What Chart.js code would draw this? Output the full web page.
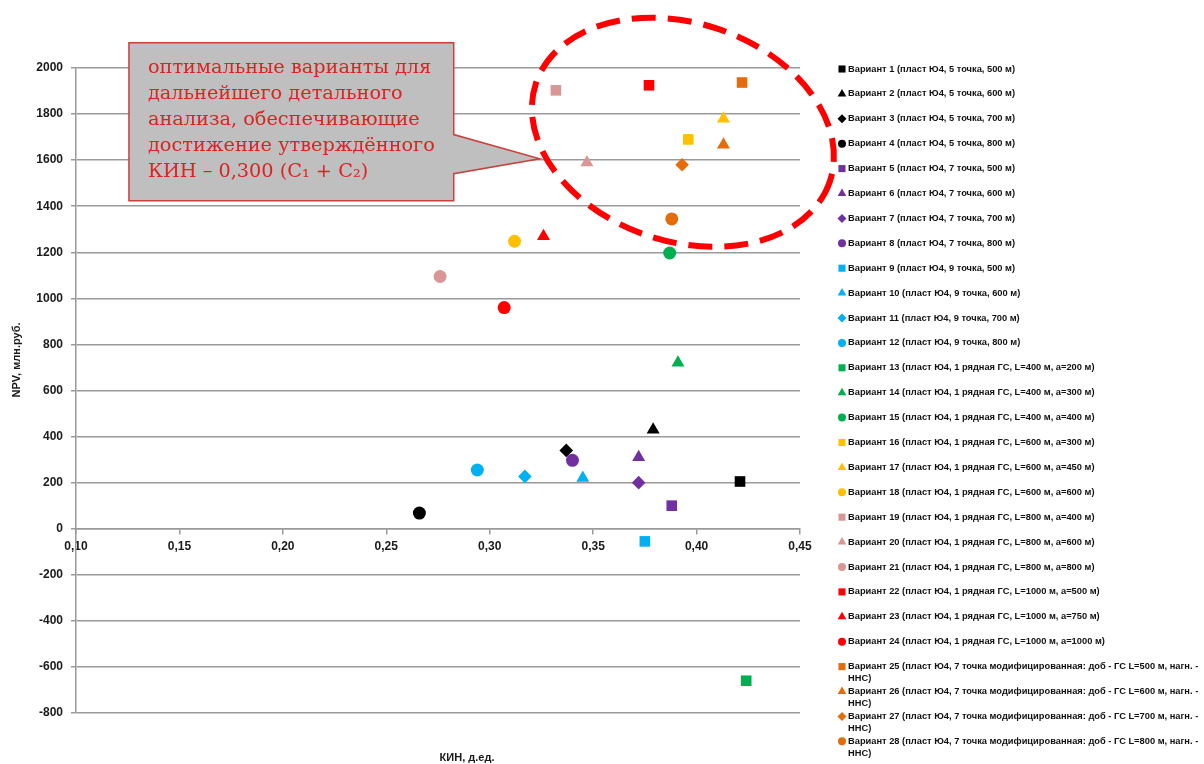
<!DOCTYPE html>
<html lang="ru">
<head>
<meta charset="utf-8">
<title>NPV / КИН</title>
<script src="https://cdn.jsdelivr.net/npm/chart.js"></script>
<style>
    html, body { margin: 0; padding: 0; background: #fff; }
</style>
</head>
<body>
<canvas id="npvChart" width="1204" height="764"></canvas>
<script>
const variants = [
    "Вариант 1 (пласт Ю4, 5 точка, 500 м)",
    "Вариант 2 (пласт Ю4, 5 точка, 600 м)",
    "Вариант 3 (пласт Ю4, 5 точка, 700 м)",
    "Вариант 4 (пласт Ю4, 5 точка, 800 м)",
    "Вариант 5 (пласт Ю4, 7 точка, 500 м)",
    "Вариант 6 (пласт Ю4, 7 точка, 600 м)",
    "Вариант 7 (пласт Ю4, 7 точка, 700 м)",
    "Вариант 8 (пласт Ю4, 7 точка, 800 м)",
    "Вариант 9 (пласт Ю4, 9 точка, 500 м)",
    "Вариант 10 (пласт Ю4, 9 точка, 600 м)",
    "Вариант 11 (пласт Ю4, 9 точка, 700 м)",
    "Вариант 12 (пласт Ю4, 9 точка, 800 м)",
    "Вариант 13 (пласт Ю4, 1 рядная ГС, L=400 м, a=200 м)",
    "Вариант 14 (пласт Ю4, 1 рядная ГС, L=400 м, a=300 м)",
    "Вариант 15 (пласт Ю4, 1 рядная ГС, L=400 м, a=400 м)",
    "Вариант 16 (пласт Ю4, 1 рядная ГС, L=600 м, a=300 м)",
    "Вариант 17 (пласт Ю4, 1 рядная ГС, L=600 м, a=450 м)",
    "Вариант 18 (пласт Ю4, 1 рядная ГС, L=600 м, a=600 м)",
    "Вариант 19 (пласт Ю4, 1 рядная ГС, L=800 м, a=400 м)",
    "Вариант 20 (пласт Ю4, 1 рядная ГС, L=800 м, a=600 м)",
    "Вариант 21 (пласт Ю4, 1 рядная ГС, L=800 м, a=800 м)",
    "Вариант 22 (пласт Ю4, 1 рядная ГС, L=1000 м, a=500 м)",
    "Вариант 23 (пласт Ю4, 1 рядная ГС, L=1000 м, a=750 м)",
    "Вариант 24 (пласт Ю4, 1 рядная ГС, L=1000 м, a=1000 м)",
    "Вариант 25 (пласт Ю4, 7 точка модифицированная: доб - ГС L=500 м, нагн. - ННС)",
    "Вариант 26 (пласт Ю4, 7 точка модифицированная: доб - ГС L=600 м, нагн. - ННС)",
    "Вариант 27 (пласт Ю4, 7 точка модифицированная: доб - ГС L=700 м, нагн. - ННС)",
    "Вариант 28 (пласт Ю4, 7 точка модифицированная: доб - ГС L=800 м, нагн. - ННС)"
];

// КИН, д.ед.
const kin = [
    0.421, 0.379, 0.337, 0.266,
    0.388, 0.372, 0.372, 0.340,
    0.375, 0.345, 0.317, 0.294,
    0.424, 0.391, 0.387,
    0.396, 0.413, 0.312,
    0.332, 0.347, 0.276,
    0.377, 0.326, 0.307,
    0.422, 0.413, 0.393, 0.388
];

// NPV, млн.руб.
const npv = [
    205, 430, 340, 68,
    100, 310, 200, 297,
    -55, 220, 227, 255,
    -660, 720, 1197,
    1690, 1780, 1248,
    1903, 1590, 1095,
    1925, 1270, 960,
    1937, 1667, 1580, 1345
];

const markerColors = [
    "#000000", "#000000", "#000000", "#000000",
    "#7030A0", "#7030A0", "#7030A0", "#7030A0",
    "#00B0F0", "#00B0F0", "#00B0F0", "#00B0F0",
    "#00B050", "#00B050", "#00B050",
    "#FFC000", "#FFC000", "#FFC000",
    "#D99694", "#D99694", "#D99694",
    "#FF0000", "#FF0000", "#FF0000",
    "#E46C0A", "#E46C0A", "#E46C0A", "#E46C0A"
];

const markerShapes = [
    "rect", "triangle", "rectRot", "circle",
    "rect", "triangle", "rectRot", "circle",
    "rect", "triangle", "rectRot", "circle",
    "rect", "triangle", "circle",
    "rect", "triangle", "circle",
    "rect", "triangle", "circle",
    "rect", "triangle", "circle",
    "rect", "triangle", "rectRot", "circle"
];

const kinTicks = [0.10, 0.15, 0.20, 0.25, 0.30, 0.35, 0.40, 0.45];
const npvTicks = [-800, -600, -400, -200, 0, 200, 400, 600, 800, 1000, 1200, 1400, 1600, 1800, 2000];

const calloutLines = [
    "оптимальные варианты для",
    "дальнейшего детального",
    "анализа, обеспечивающие",
    "достижение утверждённого",
    "КИН – 0,300 (C₁ + C₂)"
];

// callout box and dashed ring, anchored in axis units
const callout = { left: 0.1256, right: 0.2826, top: 2110, bottom: 1424,
                  notchTop: 1711, notchBottom: 1541, tipX: 0.3242, tipY: 1606 };
const ring = { cx: 0.3934, cy: 1721, rx: 0.0749, ry: 474, tilt: 0.32 };

const markerSize = { rect: 7.5, triangle: 7.5, rectRot: 6.8, circle: 6.5 };
const legendSize = { rect: 5, triangle: 5, rectRot: 4.5, circle: 4 };

const GRID = "#9a9a9a";
const AXIS_FONT = { family: "'Liberation Sans', Arial, sans-serif", size: 12, weight: "bold" };

function wrapText(ctx, text, maxWidth) {
    const words = text.split(" ");
    const lines = [];
    let line = "";
    words.forEach(w => {
        const test = line ? line + " " + w : w;
        if (ctx.measureText(test).width > maxWidth && line) {
            lines.push(line);
            line = w;
        } else {
            line = test;
        }
    });
    lines.push(line);
    return lines;
}

const annotations = {
    id: "annotations",
    beforeDatasetsDraw(chart) {
        const { ctx, scales: { x, y } } = chart;
        ctx.save();

        // speech-bubble box
        const L = x.getPixelForValue(callout.left);
        const R = x.getPixelForValue(callout.right);
        const T = y.getPixelForValue(callout.top);
        const B = y.getPixelForValue(callout.bottom);
        ctx.beginPath();
        ctx.moveTo(L, T);
        ctx.lineTo(R, T);
        ctx.lineTo(R, y.getPixelForValue(callout.notchTop));
        ctx.lineTo(x.getPixelForValue(callout.tipX), y.getPixelForValue(callout.tipY));
        ctx.lineTo(R, y.getPixelForValue(callout.notchBottom));
        ctx.lineTo(R, B);
        ctx.lineTo(L, B);
        ctx.closePath();
        ctx.fillStyle = "#BFBFBF";
        ctx.fill();
        ctx.lineWidth = 1.5;
        ctx.strokeStyle = "#C9403D";
        ctx.stroke();

        ctx.fillStyle = "#DD2222";
        ctx.font = "19.3px 'DejaVu Serif', 'Liberation Serif', serif";
        ctx.textBaseline = "middle";
        ctx.textAlign = "left";
        calloutLines.forEach((t, i) => ctx.fillText(t, L + 19, T + 25 + i * 26));

        // dashed ring around the best variants
        const cx = x.getPixelForValue(ring.cx);
        const cy = y.getPixelForValue(ring.cy);
        const rx = x.getPixelForValue(ring.cx + ring.rx) - cx;
        const ry = cy - y.getPixelForValue(ring.cy + ring.ry);
        ctx.beginPath();
        ctx.ellipse(cx, cy, rx, ry, ring.tilt, 0, Math.PI * 2);
        ctx.setLineDash([24, 12]);
        ctx.lineWidth = 6;
        ctx.strokeStyle = "#FF0000";
        ctx.stroke();
        ctx.restore();
    },
    afterDraw(chart) {
        const ctx = chart.ctx;
        ctx.save();
        ctx.fillStyle = "#1a1a1a";
        ctx.font = "bold 11px 'Liberation Sans', Arial, sans-serif";
        ctx.textAlign = "center";
        ctx.textBaseline = "middle";
        ctx.fillText("КИН, д.ед.", 467, 758);
        ctx.translate(17, 360);
        ctx.rotate(-Math.PI / 2);
        ctx.fillText("NPV, млн.руб.", 0, 0);
        ctx.restore();
    }
};

// legend down the right side, two-line entries where the label is long
const sideLegend = {
    id: "sideLegend",
    afterDraw(chart) {
        const ctx = chart.ctx;
        const left = 848, top = 69, step = 24.9;
        ctx.save();
        ctx.font = "bold 9.3px 'Liberation Sans', Arial, sans-serif";
        ctx.textBaseline = "middle";
        ctx.textAlign = "left";
        chart.data.datasets.forEach((ds, i) => {
            const yy = top + i * step;
            ctx.fillStyle = ds.backgroundColor;
            Chart.helpers.drawPoint(ctx, {
                pointStyle: ds.pointStyle,
                radius: legendSize[ds.pointStyle],
                rotation: 0,
                borderWidth: 0
            }, left - 6, yy);
            ctx.fillStyle = "#111";
            wrapText(ctx, ds.label, 1202 - left).forEach((t, k) => {
                ctx.fillText(t, left, yy + k * 12);
            });
        });
        ctx.restore();
    }
};

new Chart(document.getElementById("npvChart"), {
    type: "scatter",
    data: {
        datasets: variants.map((name, i) => ({
            label: name,
            data: [{ x: kin[i], y: npv[i] }],
            pointStyle: markerShapes[i],
            pointRadius: markerSize[markerShapes[i]],
            backgroundColor: markerColors[i],
            borderColor: markerColors[i],
            borderWidth: 0
        }))
    },
    options: {
        responsive: false,
        animation: false,
        devicePixelRatio: 1,
        layout: { padding: { top: 68, right: 404, bottom: 51, left: 0 } },
        plugins: {
            legend: { display: false },
            tooltip: { enabled: false }
        },
        scales: {
            x: {
                type: "linear",
                min: 0.10,
                max: 0.45,
                position: { y: 0 },
                afterBuildTicks: s => { s.ticks = kinTicks.map(v => ({ value: v })); },
                afterFit: s => { s.height = 0; },
                ticks: {
                    color: "#1a1a1a",
                    font: AXIS_FONT,
                    padding: 6,
                    maxRotation: 0,
                    callback: v => v.toFixed(2).replace(".", ",")
                },
                grid: { drawOnChartArea: false, color: GRID, lineWidth: 1.5, tickLength: 5 },
                border: { color: GRID, width: 1.5 }
            },
            y: {
                min: -800,
                max: 2000,
                afterBuildTicks: s => { s.ticks = npvTicks.map(v => ({ value: v })); },
                afterFit: s => { s.width = 76; },
                ticks: {
                    color: "#1a1a1a",
                    font: AXIS_FONT,
                    padding: 8,
                    callback: v => String(v)
                },
                grid: { color: GRID, lineWidth: 1.5, tickLength: 5 },
                border: { color: GRID, width: 1.5 }
            }
        }
    },
    plugins: [annotations, sideLegend]
});
</script>
</body>
</html>
